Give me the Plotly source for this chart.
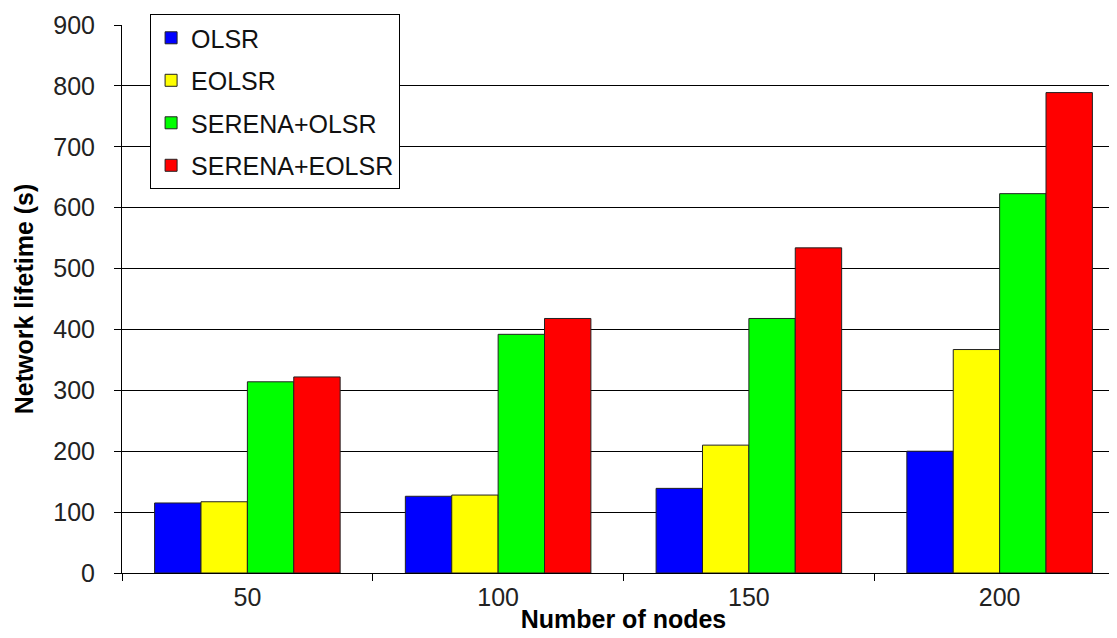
import plotly.graph_objects as go

nodes = ["50", "100", "150", "200"]
olsr = [115, 126, 139, 200]
eolsr = [117, 128, 210, 367]
serena_olsr = [314, 392, 418, 623]
serena_eolsr = [322, 418, 534, 789]

series = [
    ("OLSR", olsr, "#0000ff"),
    ("EOLSR", eolsr, "#ffff00"),
    ("SERENA+OLSR", serena_olsr, "#00ff00"),
    ("SERENA+EOLSR", serena_eolsr, "#ff0000"),
]

fig = go.Figure()
for name, vals, col in series:
    fig.add_trace(go.Bar(
        x=nodes, y=vals, name=name, legendgroup=name,
        marker=dict(color=col, line=dict(color="#222222", width=1)),
    ))

fig.update_layout(
    width=1117, height=638,
    margin=dict(l=114, r=0, t=17, b=73),
    paper_bgcolor="white", plot_bgcolor="white",
    barmode="group", bargap=0.26, bargroupgap=0,
    font=dict(family="Liberation Sans, Arial, sans-serif", size=25, color="#222222"),
    showlegend=True,
    legend=dict(
        x=0.028, y=1.02, xanchor="left", yanchor="top",
        bordercolor="black", borderwidth=1, bgcolor="white",
        font=dict(size=25, color="#111111"),
        traceorder="grouped", tracegroupgap=7,
        itemwidth=30,
    ),
)

fig.update_xaxes(
    type="category", tickson="boundaries",
    showline=True, linecolor="black", linewidth=1,
    ticks="outside", ticklen=7, tickcolor="black",
    ticklabelstandoff=2,
    showgrid=False,
    title=dict(text="<b>Number of nodes</b>", font=dict(size=25, color="black"), standoff=0),
)
fig.update_yaxes(
    range=[0, 900], dtick=100,
    showline=True, linecolor="black", linewidth=1,
    ticks="outside", ticklen=7, tickcolor="black",
    ticklabelstandoff=14,
    showgrid=True, gridcolor="black", gridwidth=1,
    zeroline=False,
    title=dict(text="<b>Network lifetime (s)</b>", font=dict(size=25, color="black"), standoff=12),
)

fig.write_html("out.html")
